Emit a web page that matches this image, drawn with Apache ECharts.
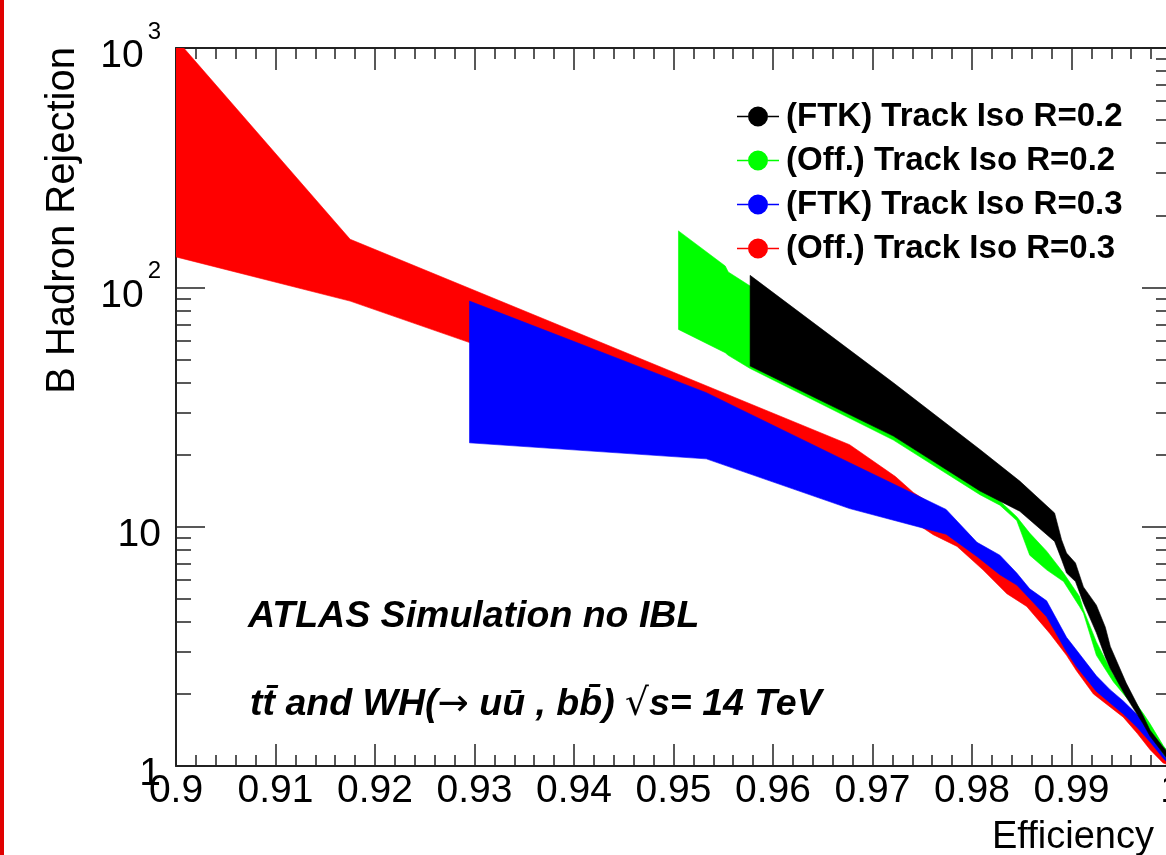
<!DOCTYPE html>
<html><head><meta charset="utf-8">
<script src="https://cdn.jsdelivr.net/npm/echarts@6/dist/echarts.min.js"></script>
<style>html,body{margin:0;padding:0;background:#fff;overflow:hidden}#c{width:1166px;height:855px}</style>
</head><body><div id="c"></div>
<script>
// ---- data ----
const seriesNames = ['(FTK) Track Iso R=0.2', '(Off.) Track Iso R=0.2', '(FTK) Track Iso R=0.3', '(Off.) Track Iso R=0.3'];
const seriesColors = ['#000000', '#00ff00', '#0000ff', '#ff0000'];
const legendLineColors = ['#333333', '#333333', '#0000ff', '#ff0000'];

const effFTK02 = [0.9577, 0.9721, 0.9808, 0.9848, 0.9883, 0.9890, 0.9895, 0.9904, 0.9912, 0.9925, 0.9934, 0.9939, 0.9955, 0.9972, 0.9979, 0.9992, 1.0];
const loFTK02  = [46.9, 23.9, 14.1, 11.6, 8.68, 7.3, 6.4, 5.9, 4.8, 3.6, 2.85, 2.55, 1.94, 1.5, 1.33, 1.13, 1.02];
const hiFTK02  = [112.2, 39.9, 21.0, 15.5, 11.4, 8.82, 7.76, 7.05, 5.6, 4.7, 3.8, 3.16, 2.22, 1.62, 1.41, 1.2, 1.1];

const effOff02 = [0.9505, 0.9552, 0.9555, 0.9577, 0.9721, 0.9808, 0.9828, 0.9845, 0.9858, 0.9875, 0.9892, 0.9908, 0.9912, 0.9925, 0.9942, 0.9959, 0.9972, 0.9979, 0.9992, 1.0];
const loOff02  = [66.7, 53.3, 52.0, 45.8, 23.0, 13.6, 12.3, 10.6, 7.6, 6.6, 5.9, 4.64, 4.35, 2.9, 2.25, 1.85, 1.55, 1.37, 1.13, 1.02];
const hiOff02  = [172.1, 122.8, 115.9, 101.3, 35, 17, 12.8, 11.0, 9.4, 7.9, 6.4, 5.11, 4.5, 3.3, 2.4, 1.97, 1.66, 1.5, 1.22, 1.1];

const effFTK03 = [0.9295, 0.9533, 0.9677, 0.9774, 0.9805, 0.9828, 0.9845, 0.9858, 0.9875, 0.9895, 0.9905, 0.9925, 0.9939, 0.9952, 0.9966, 0.9979, 0.9992, 1.0];
const loFTK03  = [22.4, 19.2, 11.9, 9.3, 7.5, 6.3, 5.7, 5.0, 4.2, 3.0, 2.6, 2.05, 1.83, 1.65, 1.45, 1.26, 1.08, 1.0];
const hiFTK03  = [87.6, 36.3, 18.5, 11.8, 8.6, 7.6, 6.4, 5.5, 4.9, 3.45, 3.05, 2.38, 2.08, 1.87, 1.64, 1.43, 1.21, 1.1];

const effOff03 = [0.9, 0.9175, 0.9677, 0.9723, 0.9741, 0.9761, 0.9785, 0.9811, 0.9835, 0.9855, 0.9878, 0.9895, 0.9905, 0.9922, 0.9952, 0.9966, 0.9979, 0.9992, 1.0];
const loOff03  = [134, 87.6, 16.5, 11.5, 10.5, 9.26, 8.27, 6.6, 5.25, 4.64, 3.59, 2.9, 2.5, 2.0, 1.6, 1.37, 1.17, 1.03, 1.0];
const hiOff03  = [1090, 158.8, 22.0, 16.2, 13.9, 12.3, 10.3, 8.0, 6.9, 5.5, 4.3, 3.2, 2.85, 2.2, 1.72, 1.5, 1.3, 1.12, 1.04];

const xTickLabels = ['0.9', '0.91', '0.92', '0.93', '0.94', '0.95', '0.96', '0.97', '0.98', '0.99', '1'];
const yTickValues = [1, 10, 100, 1000];
const yTickLabels = ['1', '10', '10^2', '10^3'];
const yMinorValues = [2,3,4,5,6,7,8,9,20,30,40,50,60,70,80,90,200,300,400,500,600,700,800,900];

// ---- helpers ----
function zipBand(eff, lo, hi) { return eff.map((e, i) => [e, lo[i], hi[i]]); }
const bands = [
  zipBand(effOff03, loOff03, hiOff03),
  zipBand(effFTK03, loFTK03, hiFTK03),
  zipBand(effOff02, loOff02, hiOff02),
  zipBand(effFTK02, loFTK02, hiFTK02)
];
const bandNameIdx = [3, 2, 1, 0]; // draw order: red, blue, green, black

function bandRender(data, color) {
  return function (params, api) {
    if (params.dataIndex !== 0) return null;
    const pts = [];
    for (let i = 0; i < data.length; i++) pts.push(api.coord([data[i][0], data[i][2]]));
    for (let i = data.length - 1; i >= 0; i--) pts.push(api.coord([data[i][0], data[i][1]]));
    const cs = params.coordSys;
    return {
      type: 'polygon',
      shape: { points: pts },
      style: { fill: color, stroke: color, lineWidth: 0.6 },
      clipPath: { type: 'rect', shape: { x: cs.x, y: cs.y, width: cs.width, height: cs.height } }
    };
  };
}

const FONT = '"Liberation Sans", Arial, Helvetica, sans-serif';
const AXC = '#222';
const ICON = 'path://M0,9.3L11,9.3L11,10.7L0,10.7Z M31,9.3L42,9.3L42,10.7L31,10.7Z M31,10A10,10,0,1,1,11,10A10,10,0,1,1,31,10Z';

const series = bands.map((d, k) => {
  const ni = bandNameIdx[k];
  return {
    type: 'custom', name: seriesNames[ni], xAxisIndex: 0, yAxisIndex: 0,
    itemStyle: { color: seriesColors[ni] },
    renderItem: bandRender(d, seriesColors[ni]),
    encode: { x: 0, y: [1, 2] },
    data: d, clip: true, silent: true, z: 2 + k
  };
});

const xBase = {
  type: 'value', min: 0.9, max: 1.0, interval: 0.01,
  axisLine: { show: true, onZero: false, lineStyle: { color: AXC, width: 2 } },
  splitLine: { show: false },
  axisTick: { show: true, inside: true, length: 22, lineStyle: { color: AXC, width: 1.5 } },
  minorTick: { show: true, splitNumber: 5, length: 11, lineStyle: { color: AXC, width: 1.5 } }
};
const yBase = {
  type: 'log', logBase: 10, min: 1, max: 1000,
  axisLine: { show: true, onZero: false, lineStyle: { color: AXC, width: 2 } },
  splitLine: { show: false },
  axisTick: { show: true, inside: true, length: 29, lineStyle: { color: AXC, width: 1.5 } }
};
const yMinor = {
  type: 'log', logBase: 10, min: 1, max: 1000,
  axisLine: { show: false }, splitLine: { show: false }, axisLabel: { show: false },
  axisTick: { show: true, inside: true, length: 15, customValues: yMinorValues, lineStyle: { color: AXC, width: 1.5 } }
};

const option = {
  backgroundColor: '#fff',
  animation: false,
  grid: { left: 176, top: 48, width: 995, height: 718, containLabel: false, outerBoundsMode: 'none' },
  xAxis: [
    Object.assign({}, xBase, {
      position: 'bottom',
      axisLabel: {
        show: true, margin: 6, fontSize: 39, fontFamily: FONT, color: '#000',
        formatter: v => xTickLabels[Math.round((v - 0.9) / 0.01)]
      }
    }),
    Object.assign({}, xBase, { position: 'top', axisLabel: { show: false } })
  ],
  yAxis: [
    Object.assign({}, yBase, {
      position: 'left',
      axisLabel: {
        show: true, margin: 15, fontSize: 39, fontFamily: FONT, color: '#000',
        formatter: v => {
          const i = yTickValues.indexOf(Math.round(v));
          if (i < 0) return '';
          const t = yTickLabels[i];
          if (t.indexOf('^') >= 0) {
            const p = t.split('^');
            return '{m|' + p[0] + '}{s|' + p[1] + '}';
          }
          return '{n|' + t + '}';
        },
        rich: {
          n: { fontSize: 39, fontFamily: FONT, color: '#000', lineHeight: 56, verticalAlign: 'bottom' },
          m: { fontSize: 39, fontFamily: FONT, color: '#000', lineHeight: 56, verticalAlign: 'bottom', padding: [10, 0, 0, 0] },
          s: { fontSize: 24, fontFamily: FONT, color: '#000', lineHeight: 24, verticalAlign: 'top', padding: [0, 0, 0, 4] }
        }
      }
    }),
    Object.assign({}, yMinor, { position: 'left' }),
    Object.assign({}, yBase, { position: 'right', axisLabel: { show: false } }),
    Object.assign({}, yMinor, { position: 'right' })
  ],
  legend: {
    orient: 'vertical', left: 732, top: 95,
    itemWidth: 42, itemHeight: 20, itemGap: 11,
    selectedMode: false,
    data: seriesNames.map(n => ({ name: n, icon: ICON })),
    textStyle: { fontFamily: FONT, fontWeight: 'bold', fontSize: 33, color: '#000', padding: [0, 0, 0, 2] }
  },
  graphic: [
    { type: 'rect', left: 0, top: 0, shape: { width: 4, height: 855 }, style: { fill: '#e00000' }, z: 100 },
    { type: 'text', x: 63, y: 47, rotation: Math.PI / 2,
      style: { text: 'B Hadron Rejection', fontSize: 40, fontFamily: FONT, fill: '#000', align: 'right', verticalAlign: 'middle' } },
    { type: 'text', x: 992, y: 838,
      style: { text: 'Efficiency', fontSize: 38, fontFamily: FONT, fill: '#000', align: 'left', verticalAlign: 'middle' } },
    { type: 'text', x: 248, y: 617,
      style: { text: 'ATLAS Simulation no IBL', fontSize: 37.5, fontWeight: 'bold', fontStyle: 'italic', fontFamily: FONT, fill: '#000', align: 'left', verticalAlign: 'middle' } },
    { type: 'text', x: 250, y: 705,
      style: {
        text: '{t|t\u0074\u0304 and WH(}{a|\u2192}{t| u\u0075\u0304 , b\u0062\u0304) }{a|\u221A}{t|s= 14 TeV}',
        fontSize: 37.5, fontWeight: 'bold', fontStyle: 'italic', fontFamily: FONT, fill: '#000', align: 'left', verticalAlign: 'middle',
        rich: {
          t: { fontSize: 37.5, fontWeight: 'bold', fontStyle: 'italic', fontFamily: FONT, fill: '#000' },
          a: { fontSize: 37.5, fontWeight: 'normal', fontStyle: 'normal', fontFamily: '"DejaVu Sans", sans-serif', fill: '#000' }
        }
      } }
  ],
  series: series
};

const chart = echarts.init(document.getElementById('c'), null, { renderer: 'canvas' });
chart.setOption(option);
</script>
</body></html>
